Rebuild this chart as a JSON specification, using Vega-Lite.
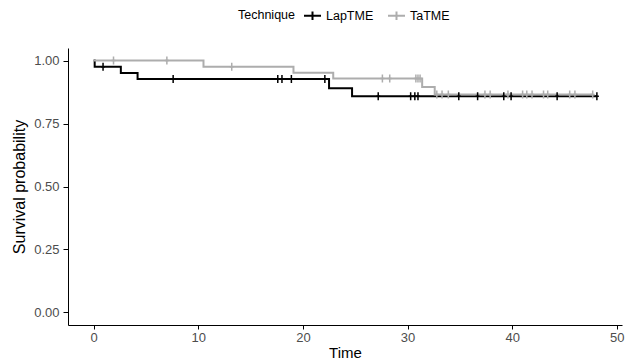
{
  "$schema": "https://vega.github.io/schema/vega-lite/v6.json",
  "width": 554,
  "height": 277,
  "autosize": {"type": "none"},
  "padding": {"left": 68, "top": 48, "right": 6, "bottom": 39},
  "background": "white",
  "config": {
    "view": {"stroke": null},
    "font": "Liberation Sans",
    "axis": {
      "grid": false,
      "domainColor": "black",
      "domainWidth": 1,
      "tickColor": "black",
      "tickSize": 5,
      "labelColor": "#4D4D4D",
      "labelFontSize": 13,
      "labelPadding": 4,
      "titleFontSize": 16,
      "titleFontWeight": "normal",
      "titleColor": "black"
    }
  },
  "data": {
    "values": [
      {"group": "LapTME", "kind": "step", "time": 0, "surv": 1.0},
      {"group": "LapTME", "kind": "step", "time": 0.1, "surv": 0.976},
      {"group": "LapTME", "kind": "step", "time": 2.6, "surv": 0.951},
      {"group": "LapTME", "kind": "step", "time": 4.2, "surv": 0.927},
      {"group": "LapTME", "kind": "step", "time": 22.5, "surv": 0.89},
      {"group": "LapTME", "kind": "step", "time": 24.7, "surv": 0.858},
      {"group": "LapTME", "kind": "step", "time": 48.1, "surv": 0.858},
      {"group": "TaTME", "kind": "step", "time": 0, "surv": 1.0},
      {"group": "TaTME", "kind": "step", "time": 10.5, "surv": 0.976},
      {"group": "TaTME", "kind": "step", "time": 19.1, "surv": 0.952},
      {"group": "TaTME", "kind": "step", "time": 22.9, "surv": 0.929},
      {"group": "TaTME", "kind": "step", "time": 31.4, "surv": 0.895},
      {"group": "TaTME", "kind": "step", "time": 32.6, "surv": 0.865},
      {"group": "TaTME", "kind": "step", "time": 47.7, "surv": 0.865},
      {"group": "LapTME", "kind": "censor", "time": 0.9, "surv": 0.976},
      {"group": "LapTME", "kind": "censor", "time": 7.6, "surv": 0.927},
      {"group": "LapTME", "kind": "censor", "time": 17.6, "surv": 0.927},
      {"group": "LapTME", "kind": "censor", "time": 18.0, "surv": 0.927},
      {"group": "LapTME", "kind": "censor", "time": 18.9, "surv": 0.927},
      {"group": "LapTME", "kind": "censor", "time": 22.1, "surv": 0.927},
      {"group": "LapTME", "kind": "censor", "time": 27.2, "surv": 0.858},
      {"group": "LapTME", "kind": "censor", "time": 30.3, "surv": 0.858},
      {"group": "LapTME", "kind": "censor", "time": 30.7, "surv": 0.858},
      {"group": "LapTME", "kind": "censor", "time": 31.0, "surv": 0.858},
      {"group": "LapTME", "kind": "censor", "time": 34.9, "surv": 0.858},
      {"group": "LapTME", "kind": "censor", "time": 36.7, "surv": 0.858},
      {"group": "LapTME", "kind": "censor", "time": 39.2, "surv": 0.858},
      {"group": "LapTME", "kind": "censor", "time": 39.9, "surv": 0.858},
      {"group": "LapTME", "kind": "censor", "time": 44.3, "surv": 0.858},
      {"group": "LapTME", "kind": "censor", "time": 48.1, "surv": 0.858},
      {"group": "TaTME", "kind": "censor", "time": 1.9, "surv": 1.0},
      {"group": "TaTME", "kind": "censor", "time": 7.0, "surv": 1.0},
      {"group": "TaTME", "kind": "censor", "time": 13.2, "surv": 0.976},
      {"group": "TaTME", "kind": "censor", "time": 27.6, "surv": 0.929},
      {"group": "TaTME", "kind": "censor", "time": 28.3, "surv": 0.929},
      {"group": "TaTME", "kind": "censor", "time": 30.8, "surv": 0.929},
      {"group": "TaTME", "kind": "censor", "time": 31.0, "surv": 0.929},
      {"group": "TaTME", "kind": "censor", "time": 31.2, "surv": 0.929},
      {"group": "TaTME", "kind": "censor", "time": 32.8, "surv": 0.865},
      {"group": "TaTME", "kind": "censor", "time": 33.3, "surv": 0.865},
      {"group": "TaTME", "kind": "censor", "time": 33.9, "surv": 0.865},
      {"group": "TaTME", "kind": "censor", "time": 37.4, "surv": 0.865},
      {"group": "TaTME", "kind": "censor", "time": 37.9, "surv": 0.865},
      {"group": "TaTME", "kind": "censor", "time": 39.6, "surv": 0.865},
      {"group": "TaTME", "kind": "censor", "time": 41.0, "surv": 0.865},
      {"group": "TaTME", "kind": "censor", "time": 41.4, "surv": 0.865},
      {"group": "TaTME", "kind": "censor", "time": 41.9, "surv": 0.865},
      {"group": "TaTME", "kind": "censor", "time": 43.0, "surv": 0.865},
      {"group": "TaTME", "kind": "censor", "time": 43.4, "surv": 0.865},
      {"group": "TaTME", "kind": "censor", "time": 45.5, "surv": 0.865},
      {"group": "TaTME", "kind": "censor", "time": 46.0, "surv": 0.865},
      {"group": "TaTME", "kind": "censor", "time": 47.7, "surv": 0.865}
    ]
  },
  "encoding": {
    "x": {
      "field": "time",
      "type": "quantitative",
      "scale": {"domain": [-2.45, 50.5], "nice": false, "zero": false},
      "axis": {"values": [0, 10, 20, 30, 40, 50], "title": "Time", "titlePadding": 1, "labelPadding": 2, "tickSize": 4, "titleFontSize": 15}
    },
    "y": {
      "field": "surv",
      "type": "quantitative",
      "scale": {"domain": [-0.05, 1.05], "nice": false, "zero": false},
      "axis": {"values": [0, 0.25, 0.5, 0.75, 1], "format": ".2f", "title": "Survival probability", "titlePadding": 6}
    },
    "color": {
      "field": "group",
      "type": "nominal",
      "scale": {"domain": ["LapTME", "TaTME"], "range": ["#000000", "#ADADAD"]},
      "legend": {
        "title": "Technique",
        "orient": "none",
        "legendX": 170,
        "legendY": -42,
        "direction": "horizontal",
        "titleOrient": "left",
        "titleFontSize": 12.5,
        "titleFontWeight": "normal",
        "titleColor": "black",
        "titlePadding": 8,
        "labelFontSize": 12.5,
        "labelColor": "black",
        "labelOffset": 4,
        "columnPadding": 10,
        "symbolType": "M-1,0H1M0,-0.5V0.5",
        "symbolSize": 289,
        "symbolStrokeWidth": 2,
        "symbolFillColor": "transparent"
      }
    }
  },
  "layer": [
    {
      "transform": [{"filter": "datum.kind === 'step'"}],
      "mark": {"type": "line", "interpolate": "step-after", "strokeWidth": 2}
    },
    {
      "transform": [{"filter": "datum.kind === 'censor'"}],
      "mark": {"type": "point", "shape": "M-0.5,0H0.5M0,-1V1", "filled": false, "size": 64, "strokeWidth": 1.5, "opacity": 1}
    }
  ]
}
